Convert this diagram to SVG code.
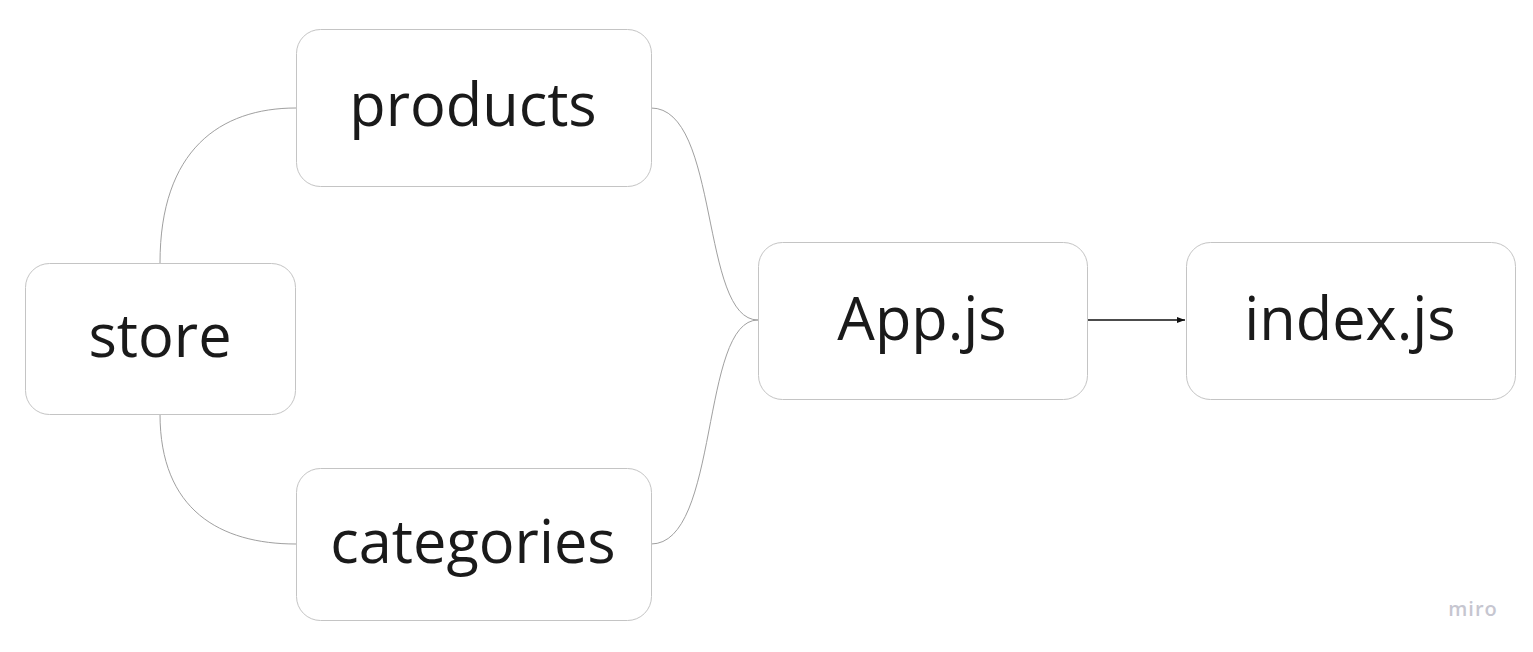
<svg xmlns="http://www.w3.org/2000/svg" width="1533" height="652" viewBox="0 0 1533 652">
<style>
.box{fill:#fff;stroke:#c4c4c4;stroke-width:1}
.lbl{font-family:"Open Sans",sans-serif;font-size:59.5px;fill:#1a1a1a;text-anchor:middle;dominant-baseline:central}
.con{fill:none;stroke:#a0a0a0;stroke-width:1}
</style>
<defs>
<marker id="ah" markerWidth="10" markerHeight="8" refX="8" refY="4" orient="auto" markerUnits="userSpaceOnUse">
<path d="M0,1 L8,4 L0,7 Z" fill="#111"/>
</marker>
</defs>
<rect width="1533" height="652" fill="#fff"/>
<g id="connectors">
<path class="con" d="M160,263 C160,150 220,108 296,108"/>
<path class="con" d="M160,414 C160,510 220,544 296,544"/>
<path class="con" d="M651,108 C720,108 700,320 758,320"/>
<path class="con" d="M651,544 C720,544 700,320 758,320"/>
<path d="M1087,320 L1185,320" fill="none" stroke="#111" stroke-width="1.5" marker-end="url(#ah)"/>
</g>
<g id="products"><rect class="box" x="296.5" y="29.5" width="355" height="157" rx="24"/><text class="lbl" x="473" y="102">products</text></g>
<g id="store"><rect class="box" x="25.5" y="263.5" width="270" height="151" rx="24"/><text class="lbl" x="160" y="333">store</text></g>
<g id="categories"><rect class="box" x="296.5" y="468.5" width="355" height="152" rx="24"/><text class="lbl" x="473" y="539">categories</text></g>
<g id="app"><rect class="box" x="758.5" y="242.5" width="329" height="157" rx="24"/><text class="lbl" x="922" y="316">App.js</text></g>
<g id="index"><rect class="box" x="1186.5" y="242.5" width="329" height="157" rx="24"/><text class="lbl" x="1350" y="316">index.js</text></g>
<text x="1473" y="616" font-family="'Open Sans',sans-serif" font-size="20" font-weight="600" fill="#c6c6d0" text-anchor="middle" letter-spacing="1">miro</text>
</svg>
